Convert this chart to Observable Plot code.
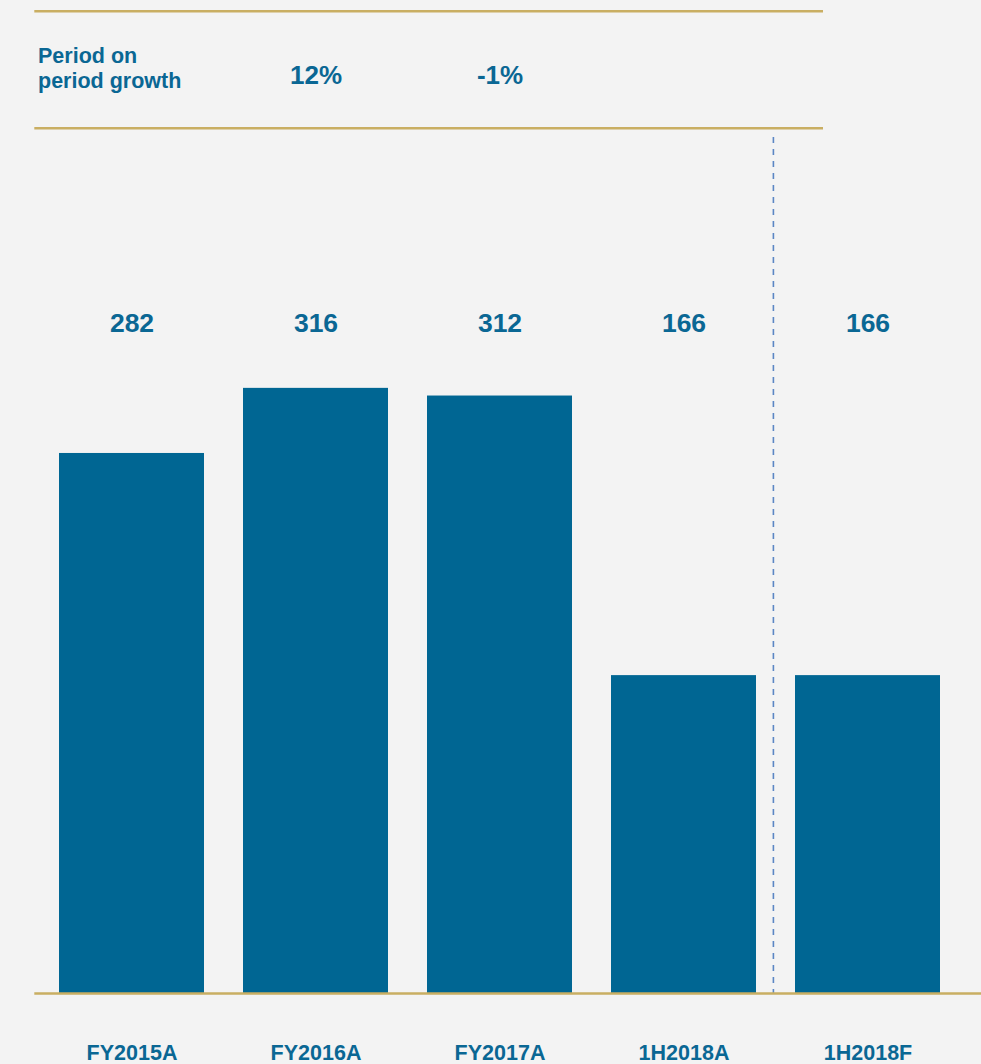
<!DOCTYPE html>
<html>
<head>
<meta charset="utf-8">
<script src="https://cdn.jsdelivr.net/npm/d3@7"></script>
<script src="https://cdn.jsdelivr.net/npm/@observablehq/plot@0.6"></script>
<style>
  html, body { margin: 0; padding: 0; background: #f3f3f3; }
  #chart svg { display: block; }
</style>
</head>
<body>
<div id="chart"></div>
<script>
// ---- Data ----
const categories = ["FY2015A", "FY2016A", "FY2017A", "1H2018A", "1H2018F"];
const values = [282, 316, 312, 166, 166];
const growthCategories = ["FY2016A", "FY2017A"];
const growthLabels = ["12%", "-1%"];
const growthTitle = "Period on\nperiod growth";
const forecastStart = "1H2018F";
const yMax = 447;

const data = categories.map((c, i) => ({category: c, value: values[i]}));
const growth = growthCategories.map((c, i) => ({category: c, label: growthLabels[i]}));

const blue = "#006693";
const textBlue = "#0a6794";
const gold = "#c9ae62";
const font = "'Liberation Sans', Arial, Helvetica, sans-serif";

const chart = Plot.plot({
  width: 981,
  height: 1064,
  marginTop: 137,
  marginBottom: 71,
  marginLeft: 20,
  marginRight: 2,
  x: {domain: categories, padding: 0.21, axis: null},
  y: {domain: [0, yMax], axis: null},
  style: {background: "#f3f3f3", fontFamily: font},
  marks: [
    // top gold lines of the growth strip
    Plot.ruleY([yMax], {dy: -126.3, stroke: gold, strokeWidth: 2.5, insetLeft: 14.3, insetRight: 156}),
    Plot.ruleY([yMax], {dy: -9.3, stroke: gold, strokeWidth: 2.5, insetLeft: 14.3, insetRight: 156}),
    // growth title
    Plot.text([growthTitle], {frameAnchor: "top-left", textAnchor: "start", lineAnchor: "top", dx: 17.5, dy: -92, lineHeight: 1.16, fontSize: 21.5, fontWeight: "bold", fill: textBlue}),
    // growth values
    Plot.text(growth, {x: "category", text: "label", frameAnchor: "top", lineAnchor: "top", dy: -72, fontSize: 26, fontWeight: "bold", fill: textBlue}),
    // bars
    Plot.barY(data, {x: "category", y: "value", fill: blue}),
    // forecast divider
    Plot.ruleX([forecastStart], {dx: -94.6, stroke: "#5b86c4", strokeWidth: 1.6, strokeDasharray: "6,6"}),
    // baseline
    Plot.ruleY([0], {stroke: gold, strokeWidth: 2.5, insetLeft: 14.3, insetRight: -2}),
    // value labels in a fixed row
    Plot.text(data, {x: "category", text: d => String(d.value), frameAnchor: "top", lineAnchor: "top", dy: 175.5, fontSize: 26.5, fontWeight: "bold", fill: textBlue}),
    // category labels
    Plot.text(data, {x: "category", text: "category", frameAnchor: "bottom", lineAnchor: "top", dy: 51, fontSize: 21.5, fontWeight: "bold", fill: textBlue})
  ]
});

document.getElementById("chart").appendChild(chart);
</script>
</body>
</html>
